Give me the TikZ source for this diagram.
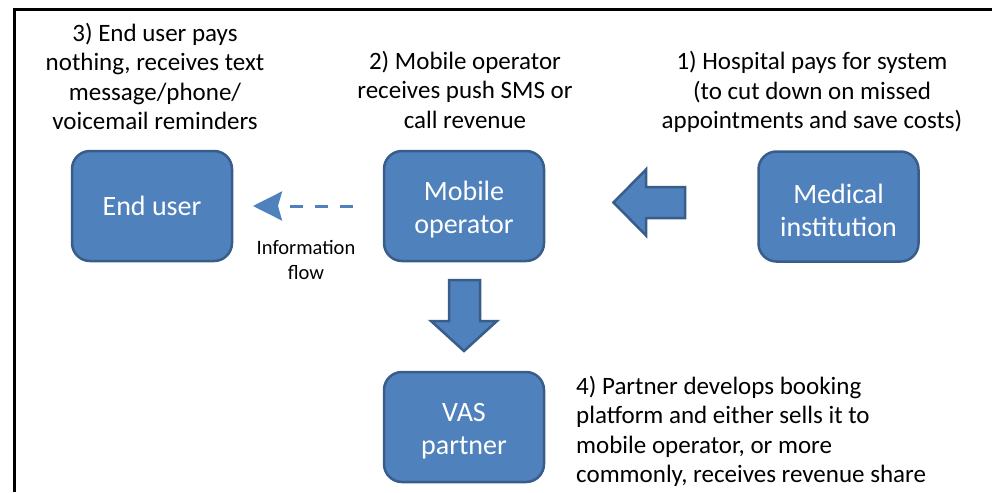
\documentclass[tikz,border=0pt]{standalone}
\usepackage{fontspec}
\setmainfont{Carlito}
\usetikzlibrary{arrows.meta}
\definecolor{boxfill}{HTML}{4F81BD}
\definecolor{boxline}{HTML}{385D8A}
\newcommand\boxlift{\rule{0pt}{27pt}}
\tikzset{
  actor/.style={draw=boxline, line width=2.5pt, fill=boxfill, rounded corners=18pt,
    minimum width=160pt, minimum height=110pt, align=center, text=white,
    font=\fontsize{28}{33}\selectfont, inner sep=0pt},
  note/.style={align=center, inner sep=0pt, font=\fontsize{25}{29.5}\selectfont},
  blockarrow/.style={draw=boxline, line width=2.5pt, fill=boxfill, line join=miter},
  frameline/.style={line width=3pt, black},
  infoarrow/.style={draw=boxfill, line width=3pt, dash pattern=on 13pt off 12pt,
    -{Stealth[length=29pt, width=29pt, inset=4pt]}}
}
\begin{document}
\begin{tikzpicture}[x=1pt,y=-1pt]
\useasboundingbox (0,0) rectangle (992,492);
% frame
\draw[frameline] (14,492) -- (14,10) -- (992,10);
% boxes
\node[actor] (enduser) at (152,206) {End user};
\node[actor] (mobile) at (464,206) {\boxlift Mobile\\operator};
\node[actor] (medical) at (838.5,206.5) {\boxlift Medical\\institution};
\node[actor] (vas) at (464,427) {\boxlift VAS\\partner};
% notes
\node[note] (t3) at (155,76.5) {3) End user pays\\nothing, receives text\\message/phone/\\voicemail reminders};
\node[note] (t2) at (465,89.5) {2) Mobile operator\\receives push SMS or\\call revenue};
\node[note] (t1) at (812,92) {1) Hospital pays for system\\(to cut down on missed\\appointments and save costs)};
\node[note, align=left, anchor=west] (t4) at (576,431.5) {4) Partner develops booking\\platform and either sells it to\\mobile operator, or more\\commonly, receives revenue share};
\node[align=center, inner sep=0pt, font=\fontsize{20.5}{25}\selectfont] (info) at (306,260) {Information\\flow};
% block arrows
\draw[blockarrow] (613.5,202.5) -- (646,169.5) -- (646,187) -- (685,187) -- (685,218) -- (646,218) -- (646,235.5) -- cycle;
\draw[blockarrow] (449,280) -- (480,280) -- (480,321) -- (497,321) -- (464,351) -- (431,321) -- (449,321) -- cycle;
% information flow
\coordinate (infostart) at (353,206);
\coordinate (infoend) at (253,206);
\draw[infoarrow] (infostart) -- (infoend);
\end{tikzpicture}
\end{document}
